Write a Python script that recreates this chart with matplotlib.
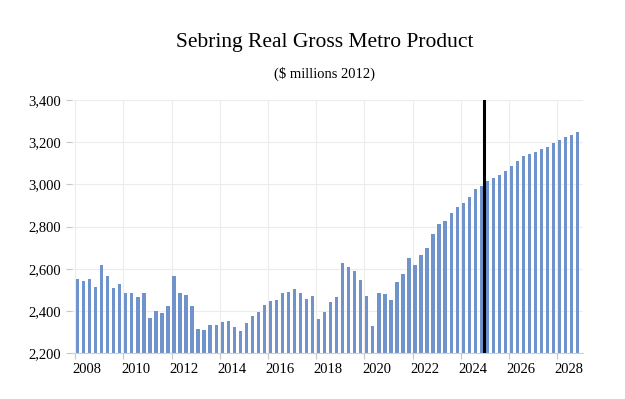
import numpy as np
import matplotlib
matplotlib.use("Agg")
import matplotlib.pyplot as plt
from matplotlib.ticker import FuncFormatter

plt.rcParams['font.family'] = ['Liberation Serif', 'DejaVu Serif']

# quarterly real GMP, $ millions (2012), 2008Q1 .. 2028Q4
years = list(range(2008, 2029))
quarters = [f"{y}Q{q}" for y in years for q in range(1, 5)]
gmp = [2553, 2540, 2551, 2515, 2620, 2566, 2509, 2526, 2485, 2485,
       2465, 2484, 2365, 2398, 2392, 2422, 2568, 2485, 2476, 2422,
       2316, 2312, 2333, 2333, 2347, 2351, 2325, 2306, 2343, 2374,
       2397, 2427, 2449, 2452, 2485, 2492, 2503, 2487, 2458, 2473,
       2360, 2397, 2444, 2468, 2626, 2607, 2588, 2545, 2469, 2327,
       2487, 2479, 2452, 2537, 2574, 2650, 2620, 2664, 2700, 2765,
       2813, 2826, 2864, 2891, 2913, 2940, 2978, 2995, 3017, 3033,
       3046, 3062, 3088, 3111, 3134, 3145, 3153, 3169, 3180, 3195,
       3209, 3225, 3236, 3247]
forecast_start = "2025Q1"
label_years = years[::2]
y_ticks = [2200, 2400, 2600, 2800, 3000, 3200, 3400]

fig = plt.figure(figsize=(6.25, 3.99), dpi=100)
ax = fig.add_axes([0.115, 0.115, 0.818, 0.634])

x = np.arange(len(quarters))
ax.bar(x, gmp, width=0.55, color='#7193cb', zorder=2)

# forecast marker between last history quarter and first forecast quarter
ax.axvline(quarters.index(forecast_start) - 0.5, color='black', lw=2.2, zorder=3)

ax.set_ylim(2200, 3400)
ax.set_xlim(-0.95, 83.9)
ax.set_yticks(y_ticks)
ax.yaxis.set_major_formatter(FuncFormatter(lambda v, p: f"{int(v):,}"))

# gridlines/ticks at the start of even years, labels a little to the right
ax.set_xticks([quarters.index(f"{y}Q1") - 0.4 for y in label_years])
ax.set_xticklabels([])
ax.set_xticks([quarters.index(f"{y}Q1") + 1.6 for y in label_years], minor=True)
ax.set_xticklabels([str(y) for y in label_years], minor=True)

ax.grid(True, which='major', color='#ececec', lw=0.8, zorder=0)
ax.set_axisbelow(True)
for side in ['top', 'right', 'left']:
    ax.spines[side].set_visible(False)
ax.spines['bottom'].set_color('#d0d0d0')
ax.tick_params(axis='both', which='both', colors='#c8c8c8', labelcolor='black',
               labelsize=10.5, length=4)
ax.tick_params(axis='x', which='minor', length=0, pad=7)

fig.text(0.52, 0.893, "Sebring Real Gross Metro Product", ha='center', va='center',
         fontsize=15.5)
fig.text(0.52, 0.815, "($ millions 2012)", ha='center', va='center', fontsize=10.5)

fig.savefig("out.png", dpi=100)
